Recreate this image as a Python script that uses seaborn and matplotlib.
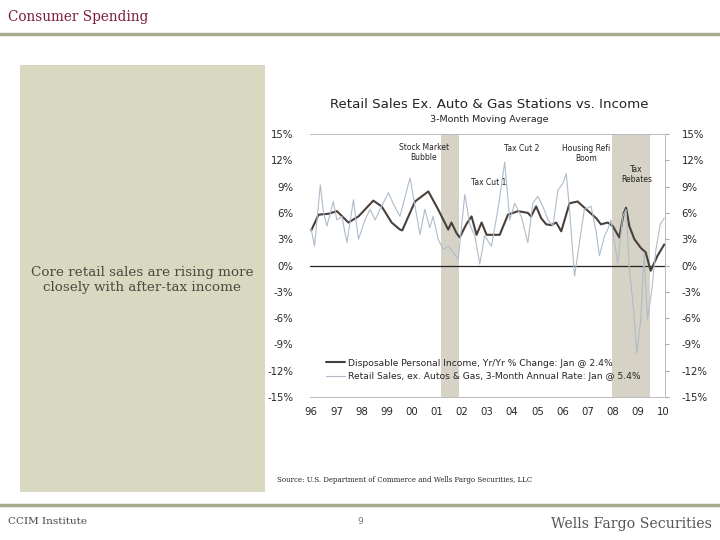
import matplotlib
matplotlib.use("Agg")
import matplotlib.pyplot as plt
from matplotlib.lines import Line2D
from matplotlib.patches import Rectangle
import seaborn as sns
import pandas as pd

# values (decimal year, % change)
income_dates = [1996.0, 1996.29, 1996.69, 1997.02, 1997.48, 1997.88, 1998.47, 1998.8,
                1999.2, 1999.53, 1999.62, 2000.13, 2000.66, 2001.05, 2001.45, 2001.58,
                2001.78, 2001.91, 2002.17, 2002.38, 2002.58, 2002.78, 2002.98, 2003.17,
                2003.5, 2003.83, 2004.23, 2004.62, 2004.75, 2004.95, 2005.15, 2005.35,
                2005.55, 2005.75, 2005.95, 2006.28, 2006.6, 2006.87, 2007.34, 2007.53,
                2007.8, 2008.0, 2008.26, 2008.44, 2008.53, 2008.66, 2008.86, 2009.12,
                2009.31, 2009.51, 2009.78, 2010.05]
income_vals = [4.0, 5.8, 5.9, 6.2, 4.9, 5.6, 7.4, 6.75,
               4.9, 4.1, 4.0, 7.3, 8.45, 6.4, 4.1, 4.9,
               3.7, 3.2, 4.7, 5.6, 3.5, 4.9, 3.5, 3.5,
               3.5, 5.8, 6.2, 6.0, 5.6, 6.75, 5.4, 4.7,
               4.6, 4.9, 3.9, 7.1, 7.3, 6.6, 5.4, 4.7,
               4.9, 4.5, 3.2, 6.0, 6.6, 4.5, 3.0, 2.0,
               1.5, -0.6, 1.1, 2.4]

retail_dates = [1996.0, 1996.13, 1996.36, 1996.49, 1996.62, 1996.88, 1997.02, 1997.22,
                1997.42, 1997.68, 1997.88, 1998.14, 1998.34, 1998.54, 1998.74, 1999.07,
                1999.27, 1999.53, 1999.93, 2000.13, 2000.33, 2000.52, 2000.72, 2000.85,
                2001.05, 2001.25, 2001.45, 2001.65, 2001.85, 2002.11, 2002.31, 2002.51,
                2002.71, 2002.9, 2003.17, 2003.43, 2003.7, 2003.9, 2004.1, 2004.36,
                2004.62, 2004.82, 2005.02, 2005.22, 2005.42, 2005.62, 2005.82, 2006.02,
                2006.15, 2006.28, 2006.48, 2006.87, 2007.14, 2007.34, 2007.47, 2007.67,
                2007.8, 2007.93, 2008.2, 2008.4, 2008.53, 2008.66, 2008.83, 2008.96,
                2009.12, 2009.25, 2009.38, 2009.55, 2009.72, 2009.89, 2010.05]
retail_vals = [4.1, 2.2, 9.2, 6.0, 4.5, 7.3, 5.2, 5.6,
               2.6, 7.5, 3.0, 5.2, 6.4, 5.2, 6.4, 8.3,
               7.0, 5.6, 10.0, 6.75, 3.5, 6.4, 4.3, 5.6,
               3.0, 1.85, 2.2, 1.5, 0.7, 8.1, 4.7, 3.4,
               0.15, 3.4, 2.2, 6.4, 11.8, 5.2, 7.1, 5.6,
               2.6, 7.1, 7.9, 6.75, 5.2, 4.5, 8.6, 9.4,
               10.5, 6.4, -1.2, 6.4, 6.75, 3.8, 1.1, 3.35,
               4.1, 5.2, 0.3, 5.6, 6.4, -0.4, -4.95, -10.0,
               -6.1, 1.5, -6.1, -2.9, 1.85, 4.7, 5.4]

recessions = [(2001.17, 2001.87), (2007.97, 2009.5)]
events = ["Stock Market\nBubble", "Tax Cut 2", "Tax Cut 1", "Housing Refi\nBoom", "Tax\nRebates"]
event_x = [2000.48, 2004.37, 2003.06, 2006.95, 2008.94]
event_y = [12.9, 13.3, 9.5, 12.8, 10.4]

year_ticks = list(range(1996, 2011))
year_labels = ["96", "97", "98", "99", "00", "01", "02", "03", "04", "05", "06", "07", "08", "09", "10"]
pct_ticks = [15, 12, 9, 6, 3, 0, -3, -6, -9, -12, -15]

income_name = "Disposable Personal Income, Yr/Yr % Change: Jan @ 2.4%"
retail_name = "Retail Sales, ex. Autos & Gas, 3-Month Annual Rate: Jan @ 5.4%"

df = pd.concat([
    pd.DataFrame({"date": income_dates, "value": income_vals, "series": income_name}),
    pd.DataFrame({"date": retail_dates, "value": retail_vals, "series": retail_name}),
])

sns.set_style("white")
plt.rcParams["font.family"] = ["DejaVu Sans"]

fig = plt.figure(figsize=(7.2, 5.4), dpi=100)
fig.patch.set_facecolor("white")

olive = "#a8aa8e"
fig.add_artist(Line2D([0, 1], [1 - 34 / 540, 1 - 34 / 540], color=olive, lw=2.5))
fig.add_artist(Line2D([0, 1], [1 - 505 / 540, 1 - 505 / 540], color=olive, lw=2.5))
fig.add_artist(Rectangle((20 / 720, 1 - 492 / 540), 245 / 720, 427 / 540,
                         facecolor="#d9d9c1", edgecolor="none"))

fig.text(8 / 720, 1 - 17 / 540, "Consumer Spending", family="DejaVu Serif",
         fontsize=9.8, color="#7b1c3c", va="center")
fig.text(142 / 720, 1 - 280 / 540, "Core retail sales are rising more\nclosely with after-tax income",
         family="DejaVu Serif", fontsize=9.7, color="#4a4a40", ha="center", va="center",
         linespacing=1.25)
fig.text(489 / 720, 1 - 105 / 540, "Retail Sales Ex. Auto & Gas Stations vs. Income",
         fontsize=9.6, ha="center", va="center", color="#222222")
fig.text(489 / 720, 1 - 119 / 540, "3-Month Moving Average", fontsize=6.8,
         ha="center", va="center", color="#222222")
fig.text(277 / 720, 1 - 480 / 540,
         "Source: U.S. Department of Commerce and Wells Fargo Securities, LLC",
         family="DejaVu Serif", fontsize=5, color="#222222", va="center")
fig.text(8 / 720, 1 - 522 / 540, "CCIM Institute", family="DejaVu Serif",
         fontsize=7.5, color="#444444", va="center")
fig.text(360 / 720, 1 - 522 / 540, "9", fontsize=6.5, color="#777777",
         ha="center", va="center")
fig.text(712 / 720, 1 - 524 / 540, "Wells Fargo Securities", family="DejaVu Serif",
         fontsize=10.2, color="#555555", ha="right", va="center")

ax = fig.add_axes([310 / 720, 1 - 397 / 540, 355 / 720, 263 / 540])
for x0, x1 in recessions:
    ax.axvspan(x0, x1, color="#d6d2c5", lw=0, zorder=0)
ax.axhline(0, color="#222222", lw=0.9, zorder=1)

sns.lineplot(data=df, x="date", y="value", hue="series", ax=ax,
             palette={income_name: "#4a403b", retail_name: "#aebccb"},
             size="series", sizes={income_name: 1.5, retail_name: 0.8},
             estimator=None, sort=True, zorder=2)

for label, x, y in zip(events, event_x, event_y):
    ax.text(x, y, label, fontsize=5.5, ha="center", va="center", color="#222222")

ax.set_xlim(1995.95, 2010.08)
ax.set_ylim(-15, 15)
ax.set_xticks(year_ticks)
ax.set_xticklabels(year_labels, fontsize=7.3)
ax.set_yticks(pct_ticks)
ax.set_yticklabels([f"{t}%" for t in pct_ticks], fontsize=7.3)
ax.set_xlabel("")
ax.set_ylabel("")
ax.tick_params(axis="x", length=3, color="#aaaaaa", direction="in", pad=7)
ax.tick_params(axis="y", length=3, color="#aaaaaa", direction="out", pad=9,
               labelright=True, right=True)
for s in ax.spines.values():
    s.set_color("#bbbbbb")
    s.set_linewidth(0.7)
ax.spines["left"].set_visible(False)

ax.legend(loc="lower left", bbox_to_anchor=(0.02, 0.025), fontsize=6.6,
          frameon=True, framealpha=0, edgecolor="#cccccc", fancybox=False,
          handlelength=2.0, handletextpad=0.4, borderpad=0.5, labelspacing=0.5)

fig.savefig("out.png", dpi=100)
